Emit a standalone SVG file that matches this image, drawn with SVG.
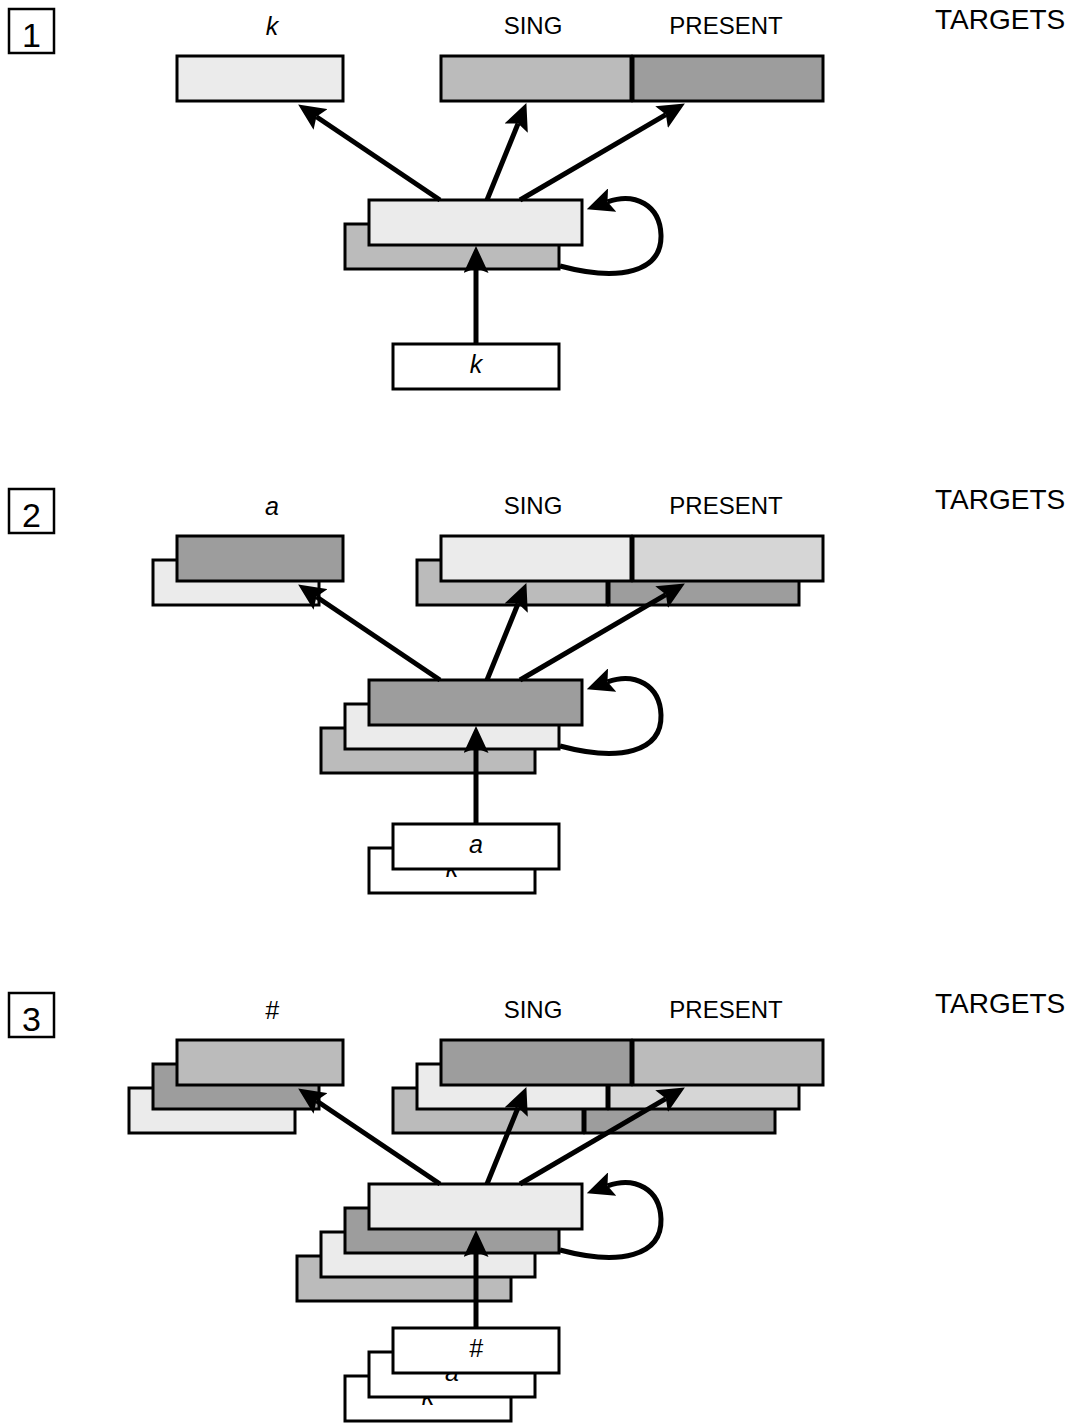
<svg xmlns="http://www.w3.org/2000/svg" width="1078" height="1424" viewBox="0 0 1078 1424">
  <style>
    .box { stroke: #000; stroke-width: 3; }
    .l1 { fill: #ebebeb; }
    .l2 { fill: #d6d6d6; }
    .m { fill: #bbbbbb; }
    .d { fill: #9d9d9d; }
    .w { fill: #ffffff; }
    .num { fill: #fff; stroke: #000; stroke-width: 2.5; }
    .numtxt { font-family: "Liberation Sans", Arial, sans-serif; font-size: 34px; text-anchor: middle; fill: #000; }
    .lbl { font-family: "Liberation Sans", Arial, sans-serif; font-size: 24px; text-anchor: middle; fill: #000; }
    .it { font-style: italic; font-size: 25px; }
    .tgt { font-family: "Liberation Sans", Arial, sans-serif; font-size: 28px; fill: #000; }
    .conn { fill: none; stroke: #000; stroke-width: 5; marker-end: url(#head); }
  </style>
  <defs>
    <marker id="head" markerUnits="userSpaceOnUse" markerWidth="27" markerHeight="25" viewBox="0 0 27 25" refX="5" refY="12.5" orient="auto">
      <path d="M0,0 L27,12.5 L0,25 L5,12.5 Z" fill="#000"/>
    </marker>
    <!-- shared connector set: three arrows to the targets, the recurrent loop, and the input arrow -->
    <g id="arrows">
      <line class="conn" x1="440" y1="200" x2="316.4" y2="116.7"/>
      <line class="conn" x1="487" y1="200" x2="518.1" y2="123.5"/>
      <line class="conn" x1="520" y1="200" x2="665.9" y2="114.6"/>
      <path class="conn" d="M560,266 C620,282 662,272 661,235 C660,205 635,192 607.5,201.8"/>
      <line class="conn" x1="476" y1="344" x2="476" y2="268"/>
    </g>
  </defs>

  <!-- ===== step 1 ===== -->
  <g id="step1">
    <g id="s1-num"><rect class="num" x="9" y="9" width="45" height="44"/><text class="numtxt" x="31.5" y="47">1</text></g>
    <text class="lbl it" x="272" y="35">k</text>
    <text class="lbl" x="533" y="34">SING</text>
    <text class="lbl" x="726" y="34">PRESENT</text>
    <text class="tgt" x="935" y="29">TARGETS</text>
    <g id="s1-letter-target"><rect class="box l1" x="177" y="56" width="166" height="45"/></g>
    <g id="s1-feature-target">
      <rect class="box m" x="441" y="56" width="190" height="45"/>
      <rect class="box d" x="633" y="56" width="190" height="45"/>
    </g>
    <g id="s1-hidden">
      <rect class="box m" x="345" y="224" width="214" height="45"/>
      <rect class="box l1" x="369" y="200" width="213" height="45"/>
    </g>
    <g id="s1-input">
      <rect class="box w" x="393" y="344" width="166" height="45"/>
      <text class="lbl it" x="476" y="373">k</text>
    </g>
    <g id="s1-connectors"><use href="#arrows"/></g>
  </g>

  <!-- ===== step 2 ===== -->
  <g id="step2" transform="translate(0,480)">
    <g id="s2-num"><rect class="num" x="9" y="9" width="45" height="44"/><text class="numtxt" x="31.5" y="47">2</text></g>
    <text class="lbl it" x="272" y="35">a</text>
    <text class="lbl" x="533" y="34">SING</text>
    <text class="lbl" x="726" y="34">PRESENT</text>
    <text class="tgt" x="935" y="29">TARGETS</text>
    <g id="s2-letter-target">
      <rect class="box l1" x="153" y="80" width="166" height="45"/>
      <rect class="box d" x="177" y="56" width="166" height="45"/>
    </g>
    <g id="s2-feature-target">
      <rect class="box m" x="417" y="80" width="190" height="45"/>
      <rect class="box d" x="609" y="80" width="190" height="45"/>
      <rect class="box l1" x="441" y="56" width="190" height="45"/>
      <rect class="box l2" x="633" y="56" width="190" height="45"/>
    </g>
    <g id="s2-hidden">
      <rect class="box m" x="321" y="248" width="214" height="45"/>
      <rect class="box l1" x="345" y="224" width="214" height="45"/>
      <rect class="box d" x="369" y="200" width="213" height="45"/>
    </g>
    <g id="s2-input">
      <rect class="box w" x="369" y="368" width="166" height="45"/>
      <text class="lbl it" x="452" y="397">k</text>
      <rect class="box w" x="393" y="344" width="166" height="45"/>
      <text class="lbl it" x="476" y="373">a</text>
    </g>
    <g id="s2-connectors"><use href="#arrows"/></g>
  </g>

  <!-- ===== step 3 ===== -->
  <g id="step3" transform="translate(0,984)">
    <g id="s3-num"><rect class="num" x="9" y="9" width="45" height="44"/><text class="numtxt" x="31.5" y="47">3</text></g>
    <text class="lbl it" x="272" y="35">#</text>
    <text class="lbl" x="533" y="34">SING</text>
    <text class="lbl" x="726" y="34">PRESENT</text>
    <text class="tgt" x="935" y="29">TARGETS</text>
    <g id="s3-letter-target">
      <rect class="box l1" x="129" y="104" width="166" height="45"/>
      <rect class="box d" x="153" y="80" width="166" height="45"/>
      <rect class="box m" x="177" y="56" width="166" height="45"/>
    </g>
    <g id="s3-feature-target">
      <rect class="box m" x="393" y="104" width="190" height="45"/>
      <rect class="box d" x="585" y="104" width="190" height="45"/>
      <rect class="box l1" x="417" y="80" width="190" height="45"/>
      <rect class="box l2" x="609" y="80" width="190" height="45"/>
      <rect class="box d" x="441" y="56" width="190" height="45"/>
      <rect class="box m" x="633" y="56" width="190" height="45"/>
    </g>
    <g id="s3-hidden">
      <rect class="box m" x="297" y="272" width="214" height="45"/>
      <rect class="box l1" x="321" y="248" width="214" height="45"/>
      <rect class="box d" x="345" y="224" width="214" height="45"/>
      <rect class="box l1" x="369" y="200" width="213" height="45"/>
    </g>
    <g id="s3-input">
      <rect class="box w" x="345" y="392" width="166" height="45"/>
      <text class="lbl it" x="428" y="421">k</text>
      <rect class="box w" x="369" y="368" width="166" height="45"/>
      <text class="lbl it" x="452" y="397">a</text>
      <rect class="box w" x="393" y="344" width="166" height="45"/>
      <text class="lbl it" x="476" y="373">#</text>
    </g>
    <g id="s3-connectors"><use href="#arrows"/></g>
  </g>
</svg>
